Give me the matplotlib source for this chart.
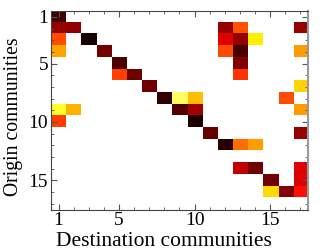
import numpy as np
import matplotlib
matplotlib.use("Agg")
import matplotlib.pyplot as plt
from matplotlib.ticker import MultipleLocator

# flows between communities (origin row, destination column, normalised strength)
n_comm = 17
origin = [1, 2, 2, 2, 2, 2, 3, 3, 3, 3, 3, 4, 4, 4, 4, 4, 5, 5, 6, 6, 6,
          7, 7, 8, 8, 8, 8, 9, 9, 9, 9, 9, 10, 10, 11, 11, 12, 12, 12,
          14, 14, 14, 15, 15, 16, 16, 16]
dest = [1, 1, 2, 12, 13, 17, 1, 3, 12, 13, 14, 1, 4, 12, 13, 17, 5, 13, 5, 6, 13,
        7, 17, 8, 9, 10, 16, 1, 2, 9, 10, 17, 1, 10, 11, 17, 12, 13, 14,
        13, 14, 17, 15, 17, 15, 16, 17]
flow = [0.92, 0.79, 0.80, 0.79, 0.515, 0.79, 0.52, 0.98, 0.68, 0.80, 0.28,
        0.39, 0.84, 0.52, 0.91, 0.40, 0.90, 0.82, 0.54, 0.85, 0.56,
        0.85, 0.32, 0.94, 0.16, 0.35, 0.52, 0.21, 0.37, 0.89, 0.77, 0.40,
        0.54, 0.97, 0.86, 0.79, 0.955, 0.47, 0.40,
        0.725, 0.84, 0.68, 0.84, 0.68, 0.31, 0.82, 0.61]
ticks = [1, 5, 10, 15]

mat = np.zeros((n_comm, n_comm))
for o, d, f in zip(origin, dest, flow):
    mat[o - 1, d - 1] = f

plt.rcParams['font.family'] = ['Liberation Serif', 'DejaVu Serif']

fig = plt.figure(figsize=(3.32, 2.5), dpi=100)
ax = fig.add_axes([0.1536, 0.162, 0.7741, 0.794])
ax.imshow(mat, cmap='hot_r', vmin=0, vmax=1, interpolation='nearest',
          extent=(0.5, n_comm + 0.5, n_comm + 0.5, 0.5), aspect='auto')

ax.set_xticks(ticks)
ax.set_yticks(ticks)
ax.xaxis.set_minor_locator(MultipleLocator(1))
ax.yaxis.set_minor_locator(MultipleLocator(1))
ax.tick_params(which='both', direction='in', top=True, right=True,
               labelsize=14, color='#555555')
ax.tick_params(which='major', length=4, pad=2)
ax.tick_params(which='minor', length=2)
for s in ax.spines.values():
    s.set_color('#444444')
    s.set_linewidth(0.8)
ax.spines['right'].set_color('#999999')
ax.spines['right'].set_linewidth(1.5)

ax.set_xlabel('Destination communities', fontsize=15.5)
ax.xaxis.set_label_coords(0.44, -0.113)
ax.xaxis.label.set_va('top')
ax.set_ylabel('Origin communities', fontsize=14.2)
ax.yaxis.set_label_coords(-0.11, 0.47)

fig.savefig('out.png', dpi=100)
